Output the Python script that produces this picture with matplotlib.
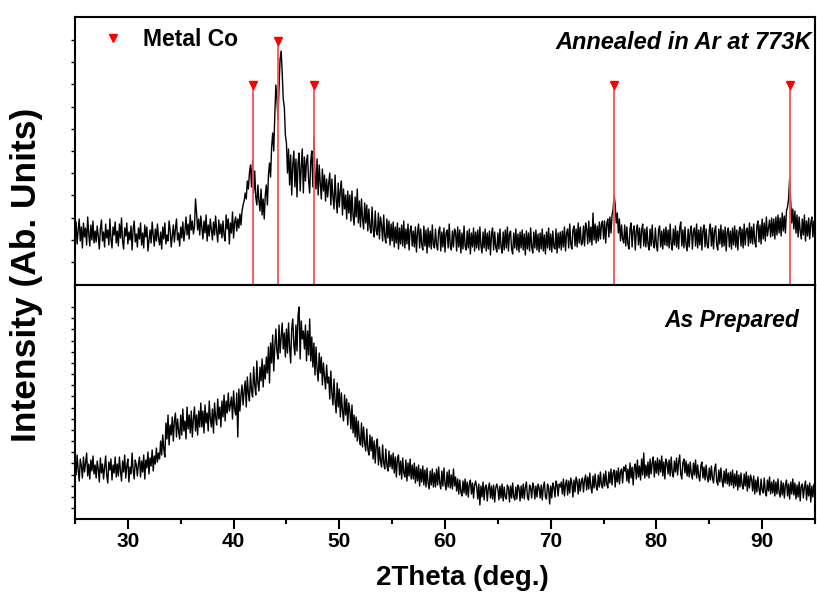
import matplotlib
matplotlib.use('Agg')
import matplotlib.pyplot as plt
from matplotlib.lines import Line2D
from matplotlib.ticker import MultipleLocator
import numpy as np

plt.rcParams['font.family'] = ['Liberation Sans', 'DejaVu Sans']
plt.rcParams['font.weight'] = 'bold'

# 2theta scan grid, 25.0 .. 95.0 deg in 0.1 deg steps
TWO_THETA = np.arange(250, 951) / 10.0

# annealed sample (Ar, 773K), arbitrary units, one row = 2 deg
ANNEALED = [
    52, 63, 41, 55, 66, 44, 58, 37, 62, 48, 57, 40, 68, 51, 39, 60, 45, 64, 42, 54,
    43, 59, 49, 36, 56, 65, 44, 53, 38, 61, 47, 55, 40, 66, 46, 37, 58, 50, 63, 42,
    54, 39, 61, 47, 67, 44, 36, 57, 49, 62, 41, 53, 45, 59, 35, 56, 64, 43, 51, 38,
    57, 46, 62, 40, 52, 37, 60, 48, 58, 34, 45, 55, 42, 63, 50, 39, 56, 44, 61, 47,
    40, 53, 36, 58, 46, 62, 41, 50, 44, 64, 55, 38, 49, 60, 43, 56, 66, 45, 52, 39,
    58, 47, 63, 44, 54, 68, 50, 61, 46, 70, 55, 64, 51, 58, 86, 72, 55, 66, 50, 69,
    58, 46, 64, 52, 70, 44, 60, 49, 66, 55, 45, 63, 50, 69, 54, 43, 65, 51, 61, 47,
    64, 50, 44, 70, 56, 66, 41, 62, 52, 73, 47, 63, 68, 54, 66, 57, 71, 60, 74, 80,
    84, 92, 86, 104, 96, 112, 120, 98, 124, 92, 114, 88, 80, 100, 84, 74, 96, 70, 86, 66,
    90, 100, 80, 110, 122, 108, 138, 152, 134, 170, 200, 186, 166, 198, 226, 234, 212, 186, 178, 150,
    142, 112, 136, 100, 130, 90, 120, 134, 98, 126, 88, 122, 132, 94, 118, 136, 92, 128, 104, 124,
    130, 104, 92, 124, 134, 98, 148, 108, 96, 126, 90, 120, 102, 86, 116, 94, 110, 84, 106, 88,
    102, 112, 80, 106, 88, 76, 110, 86, 72, 102, 78, 94, 104, 70, 96, 76, 90, 66, 94, 72,
    90, 64, 94, 70, 60, 88, 68, 96, 62, 84, 58, 86, 66, 56, 82, 62, 80, 54, 76, 58,
    52, 78, 56, 48, 74, 54, 50, 72, 46, 68, 60, 44, 70, 49, 42, 66, 47, 64, 40, 61,
    44, 63, 38, 58, 42, 62, 36, 57, 41, 60, 39, 64, 37, 56, 41, 61, 35, 55, 59, 39,
    54, 38, 58, 33, 53, 61, 37, 56, 40, 35, 59, 39, 55, 32, 57, 38, 54, 36, 60, 40,
    37, 56, 40, 35, 54, 58, 34, 53, 38, 57, 33, 52, 55, 37, 61, 39, 35, 54, 38, 56,
    53, 34, 58, 38, 55, 32, 52, 36, 59, 39, 35, 54, 37, 56, 31, 52, 38, 57, 34, 53,
    37, 55, 35, 58, 39, 32, 53, 37, 56, 34, 52, 36, 54, 30, 51, 57, 35, 53, 38, 33,
    52, 36, 56, 38, 32, 53, 35, 55, 37, 58, 34, 51, 54, 36, 31, 52, 37, 56, 35, 51,
    33, 53, 37, 55, 35, 51, 30, 54, 36, 52, 34, 57, 38, 32, 53, 37, 55, 35, 51, 33,
    52, 36, 56, 34, 50, 31, 53, 37, 57, 35, 51, 33, 54, 38, 36, 56, 32, 52, 37, 53,
    35, 54, 38, 58, 34, 52, 56, 37, 61, 41, 36, 55, 59, 39, 56, 38, 62, 42, 58, 40,
    42, 59, 39, 62, 56, 41, 64, 43, 58, 40, 72, 45, 61, 42, 59, 44, 63, 46, 61, 64,
    46, 64, 42, 61, 66, 48, 68, 52, 70, 76, 90, 80, 62, 72, 52, 66, 44, 60, 46, 42,
    60, 39, 58, 41, 36, 56, 62, 38, 55, 59, 35, 54, 60, 40, 57, 37, 55, 61, 39, 56,
    38, 58, 41, 35, 56, 39, 60, 42, 37, 57, 40, 34, 55, 59, 38, 54, 36, 56, 40, 58,
    39, 55, 37, 61, 41, 35, 56, 40, 59, 38, 54, 36, 57, 63, 39, 55, 37, 58, 41, 34,
    56, 38, 54, 59, 36, 53, 57, 39, 61, 37, 55, 40, 58, 35, 54, 60, 38, 56, 40, 37,
    55, 61, 39, 57, 36, 54, 59, 40, 35, 56, 41, 60, 38, 55, 39, 58, 34, 53, 57, 38,
    54, 36, 57, 40, 59, 38, 55, 35, 53, 58, 39, 56, 37, 61, 40, 55, 57, 39, 62, 42,
    58, 41, 61, 44, 38, 59, 64, 43, 60, 41, 66, 46, 62, 44, 68, 49, 57, 65, 48, 67,
    49, 66, 46, 68, 50, 70, 52, 67, 49, 72, 54, 69, 52, 74, 78, 86, 106, 84, 62, 76,
    56, 74, 52, 70, 48, 68, 54, 46, 66, 50, 70, 44, 64, 49, 67, 46, 62, 68, 48, 64,
    57,
]

# as-prepared sample, arbitrary units, one row = 2 deg
AS_PREPARED = [
    58, 44, 64, 49, 38, 60, 53, 41, 62, 47, 56, 66, 43, 55, 40, 59, 48, 63, 45, 54,
    41, 58, 50, 37, 61, 46, 55, 40, 52, 63, 44, 36, 57, 49, 60, 39, 54, 46, 62, 42,
    55, 43, 62, 48, 38, 58, 47, 64, 41, 53, 60, 37, 52, 45, 66, 49, 40, 59, 54, 43,
    55, 62, 42, 58, 47, 64, 40, 59, 51, 67, 45, 61, 53, 69, 48, 63, 55, 71, 57, 66,
    60, 78, 64, 84, 70, 62, 96, 80, 104, 74, 94, 84, 102, 78, 98, 106, 82, 100, 88, 80,
    104, 84, 110, 88, 98, 80, 112, 90, 104, 86, 108, 82, 100, 112, 88, 104, 84, 108, 92, 116,
    92, 108, 86, 114, 96, 106, 88, 118, 100, 92, 110, 86, 116, 102, 94, 120, 100, 112, 92, 118,
    102, 124, 98, 118, 106, 126, 108, 114, 122, 100, 128, 110, 104, 126, 82, 130, 108, 124, 134, 114,
    128, 138, 112, 142, 126, 118, 146, 128, 122, 152, 134, 124, 158, 136, 128, 152, 138, 160, 132, 154,
    140, 162, 146, 172, 136, 176, 156, 184, 148, 172, 190, 168, 160, 194, 166, 182, 196, 170, 186, 162,
    190, 166, 196, 172, 156, 190, 200, 174, 164, 194, 168, 204, 212, 160, 198, 180, 188, 170, 194, 158,
    188, 164, 200, 158, 182, 152, 176, 144, 172, 150, 138, 166, 146, 162, 134, 156, 142, 130, 154, 136,
    142, 120, 148, 126, 114, 140, 118, 106, 136, 112, 130, 102, 126, 108, 98, 124, 104, 120, 94, 116,
    108, 90, 114, 86, 104, 82, 102, 78, 98, 80, 74, 96, 72, 92, 76, 68, 90, 70, 64, 84,
    68, 82, 60, 78, 56, 74, 80, 54, 72, 58, 52, 74, 56, 50, 70, 54, 48, 68, 52, 64,
    50, 66, 46, 62, 42, 60, 64, 44, 58, 40, 61, 46, 42, 59, 38, 56, 43, 60, 40, 54,
    40, 56, 36, 52, 38, 54, 33, 50, 37, 53, 34, 49, 32, 51, 36, 30, 48, 34, 50, 32,
    46, 32, 50, 34, 52, 36, 30, 48, 33, 51, 35, 29, 47, 32, 49, 31, 44, 30, 50, 33,
    42, 28, 40, 25, 39, 27, 23, 38, 26, 40, 24, 37, 22, 35, 39, 25, 36, 21, 34, 38,
    32, 20, 35, 14, 33, 22, 37, 19, 32, 34, 18, 31, 36, 21, 33, 20, 34, 17, 31, 35,
    30, 19, 33, 21, 35, 18, 32, 22, 20, 34, 31, 17, 33, 21, 36, 22, 19, 32, 20, 34,
    31, 18, 33, 21, 35, 20, 32, 37, 22, 19, 34, 31, 21, 36, 32, 20, 33, 22, 35, 31,
    21, 34, 19, 32, 37, 22, 20, 35, 31, 15, 33, 21, 36, 32, 22, 38, 34, 23, 35, 32,
    37, 25, 40, 23, 35, 39, 24, 38, 26, 41, 36, 22, 39, 27, 42, 37, 25, 40, 28, 38,
    41, 27, 39, 44, 29, 42, 30, 46, 32, 26, 43, 31, 45, 33, 29, 44, 32, 47, 34, 31,
    45, 33, 48, 35, 31, 47, 36, 50, 34, 46, 49, 32, 48, 37, 51, 35, 47, 50, 36, 52,
    48, 54, 38, 50, 36, 56, 41, 52, 34, 51, 55, 40, 59, 42, 53, 39, 60, 44, 66, 41,
    54, 43, 57, 41, 60, 45, 56, 62, 42, 58, 46, 61, 44, 59, 47, 63, 43, 57, 40, 60,
    56, 45, 59, 43, 62, 46, 42, 58, 47, 61, 44, 57, 64, 45, 40, 56, 60, 46, 58, 43,
    55, 42, 57, 45, 40, 56, 44, 59, 41, 54, 43, 38, 53, 57, 41, 52, 39, 54, 42, 37,
    51, 39, 53, 41, 36, 50, 55, 38, 34, 49, 37, 51, 39, 32, 48, 36, 50, 35, 46, 33,
    47, 34, 49, 31, 45, 33, 48, 29, 44, 32, 46, 34, 30, 45, 33, 47, 28, 43, 31, 44,
    40, 28, 43, 25, 39, 27, 42, 30, 24, 40, 29, 26, 41, 27, 23, 39, 28, 42, 25, 37,
    26, 39, 23, 37, 25, 40, 27, 22, 38, 24, 36, 21, 34, 39, 23, 35, 20, 37, 25, 40,
    24, 36, 20, 34, 22, 37, 18, 33, 35, 21, 32, 38, 19, 34, 23, 36, 17, 33, 22, 35,
    28,
]

# metal Co reference reflections and marker heights
CO_PEAKS = [41.8, 44.2, 47.6, 76.0, 92.6]
CO_MARK = [200, 244, 200, 200, 200]

X_TICKS = [30, 40, 50, 60, 70, 80, 90]


def style_axes(ax, ymax, yticks):
    """
    Common frame, limits and y ticks of a panel.
    """
    ax.set_xlim(25, 95)
    ax.set_ylim(0, ymax)
    for sp in ax.spines.values():
        sp.set_linewidth(1.5)
    ax.set_yticks(yticks)
    ax.tick_params(axis='y', direction='out', length=3, width=1.0,
                   labelleft=False)
    ax.xaxis.set_major_locator(plt.FixedLocator(X_TICKS))
    ax.xaxis.set_minor_locator(MultipleLocator(5))


def main() -> None:
    """
    Draw both XRD panels and save out.png.
    """
    assert len(ANNEALED) == len(TWO_THETA) == len(AS_PREPARED)

    fig = plt.figure(figsize=(8.17, 5.99), dpi=100)
    ax_top = fig.add_axes([75 / 817, 314 / 599, 740 / 817, 268 / 599])
    ax_bot = fig.add_axes([75 / 817, 80 / 599, 740 / 817, 234 / 599])

    # upper panel
    ax_top.plot(TWO_THETA, ANNEALED, color='black', lw=1.0, zorder=2)
    ax_top.vlines(CO_PEAKS, 0, CO_MARK, colors='#ff5050', lw=1.3, zorder=3)
    ax_top.plot(CO_PEAKS, CO_MARK, 'v', color='red', ms=6, zorder=4)
    style_axes(ax_top, 268, np.linspace(23, 245, 11))
    ax_top.tick_params(axis='x', which='both', direction='out',
                       bottom=True, top=False, labelbottom=False,
                       width=1.5)
    ax_top.tick_params(axis='x', which='major', length=8)
    ax_top.tick_params(axis='x', which='minor', length=4.3)

    handle = Line2D([], [], marker='v', color='red', ls='none', ms=6)
    ax_top.legend([handle], ['Metal Co'], loc='upper left',
                  bbox_to_anchor=(0.0358, 0.959), frameon=False,
                  borderpad=0, borderaxespad=0, handlelength=1.0,
                  handletextpad=0.8,
                  prop={'weight': 'bold', 'size': 16.5})
    ax_top.text(94.75, 236, 'Annealed in Ar at 773K', style='italic',
                weight='bold', fontsize=17, ha='right', va='baseline')

    # lower panel
    ax_bot.plot(TWO_THETA, AS_PREPARED, color='black', lw=1.0)
    style_axes(ax_bot, 234, np.linspace(11, 212, 19))
    ax_bot.tick_params(axis='x', which='both', direction='out', width=1.5,
                       labelsize=15, pad=2.5)
    ax_bot.tick_params(axis='x', which='major', length=7)
    ax_bot.tick_params(axis='x', which='minor', length=3.6)
    for lab in ax_bot.get_xticklabels():
        lab.set_fontweight('bold')
    ax_bot.text(93.49, 192, 'As Prepared', style='italic', weight='bold',
                fontsize=16.5, ha='right', va='baseline')

    ax_bot.set_xlabel('2Theta (deg.)', fontsize=20, fontweight='bold')
    ax_bot.xaxis.set_label_coords(0.524, -0.195)
    fig.text(27 / 817, 1 - 275 / 599, 'Intensity (Ab. Units)', rotation=90,
             fontsize=25.5, fontweight='bold', ha='center', va='center')

    fig.savefig('out.png', dpi=100)


if __name__ == "__main__":
    main()
